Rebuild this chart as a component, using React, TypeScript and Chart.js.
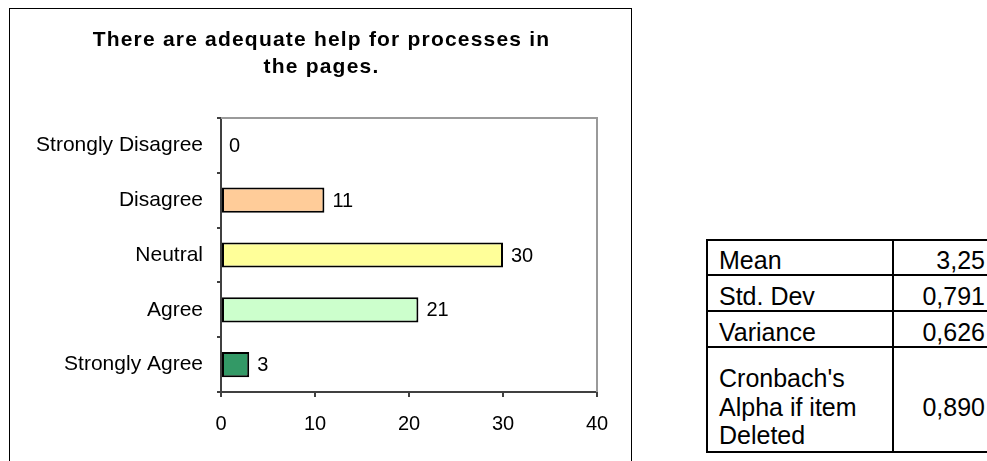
import React, { useEffect, useRef } from "react";
import { Chart, registerables } from "chart.js";

Chart.register(...registerables);

// Survey item: title, answer categories and response counts
const titleLines = ["There are adequate help for processes in", "the pages."];
const categories = ["Strongly Disagree", "Disagree", "Neutral", "Agree", "Strongly Agree"];
const responses = [0, 11, 30, 21, 3];
const barColors = ["#9999FF", "#FFCC99", "#FFFF99", "#CCFFCC", "#339966"];
const xTickValues = [0, 10, 20, 30, 40];

// Summary statistics shown beside the chart
const statNames = [["Mean"], ["Std. Dev"], ["Variance"], ["Cronbach's", "Alpha if item", "Deleted"]];
const statValues = ["3,25", "0,791", "0,626", "0,890"];

const FONT = '"Liberation Sans", Arial, Helvetica, sans-serif';

const titlePlugin = {
  id: "surveyTitle",
  afterDraw(chart: any) {
    const ctx = chart.ctx as CanvasRenderingContext2D;
    ctx.save();
    ctx.font = `bold 21px ${FONT}`;
    ctx.fillStyle = "#000";
    ctx.textAlign = "center";
    ctx.textBaseline = "alphabetic";
    (ctx as any).letterSpacing = "1.2px";
    const cx = chart.width / 2 + 1;
    titleLines.forEach((line, i) => ctx.fillText(line, cx, 37 + i * 27));
    ctx.restore();
  },
};

const plotFramePlugin = {
  id: "plotFrame",
  beforeDatasetsDraw(chart: any) {
    const { ctx, chartArea: a } = chart;
    ctx.save();
    ctx.strokeStyle = "#9a9a9a";
    ctx.lineWidth = 2;
    ctx.beginPath();
    ctx.moveTo(a.left, a.top);
    ctx.lineTo(a.right, a.top);
    ctx.lineTo(a.right, a.bottom);
    ctx.stroke();
    ctx.restore();
  },
};

const valueLabelPlugin = {
  id: "valueLabels",
  afterDatasetsDraw(chart: any) {
    const ctx = chart.ctx as CanvasRenderingContext2D;
    const meta = chart.getDatasetMeta(0);
    const values = chart.data.datasets[0].data as number[];
    ctx.save();
    ctx.font = `20px ${FONT}`;
    ctx.fillStyle = "#000";
    ctx.textAlign = "left";
    ctx.textBaseline = "middle";
    meta.data.forEach((bar: any, i: number) => {
      ctx.fillText(String(values[i]), bar.x + 8, bar.y + 1);
    });
    ctx.restore();
  },
};

function SurveyChart() {
  const canvasRef = useRef<HTMLCanvasElement | null>(null);

  useEffect(() => {
    const canvas = canvasRef.current;
    if (!canvas) return;
    const chart = new Chart(canvas, {
      type: "bar",
      data: {
        labels: categories,
        datasets: [
          {
            data: responses,
            backgroundColor: barColors,
            borderColor: "#000",
            borderWidth: 2,
            borderSkipped: false,
            barPercentage: 0.46,
            categoryPercentage: 1,
          },
        ],
      },
      options: {
        indexAxis: "y",
        responsive: false,
        animation: false,
        devicePixelRatio: 1,
        layout: { padding: { top: 109, right: 34, left: 0, bottom: 0 } },
        plugins: {
          legend: { display: false },
          title: { display: false },
          tooltip: { enabled: false },
        },
        scales: {
          x: {
            type: "linear",
            min: 0,
            max: 40,
            afterBuildTicks: (scale: any) => {
              scale.ticks = xTickValues.map((v) => ({ value: v }));
            },
            afterFit: (scale: any) => {
              scale.height = 69;
            },
            ticks: {
              color: "#000",
              font: { family: FONT, size: 20 },
              padding: 15,
              maxRotation: 0,
            },
            grid: {
              drawOnChartArea: false,
              drawTicks: true,
              tickLength: 5,
              color: "#404040",
              lineWidth: 2,
            },
            border: { color: "#404040", width: 2 },
          },
          y: {
            type: "category",
            offset: true,
            afterFit: (scale: any) => {
              scale.width = 211;
            },
            ticks: {
              color: "#000",
              font: { family: FONT, size: 21 },
              padding: 14,
            },
            grid: {
              offset: true,
              drawOnChartArea: false,
              drawTicks: true,
              tickLength: 4,
              color: "#404040",
              lineWidth: 2,
            },
            border: { color: "#404040", width: 2 },
          },
        },
      },
      plugins: [plotFramePlugin, valueLabelPlugin, titlePlugin],
    } as any);
    return () => chart.destroy();
  }, []);

  return <canvas ref={canvasRef} width={621} height={452} style={{ display: "block" }} />;
}

function StatsTable() {
  const rowHeights = [35, 36, 36, 105];
  const cellBase: React.CSSProperties = {
    boxSizing: "border-box",
    borderRight: "2px solid #000",
    borderBottom: "2px solid #000",
    display: "flex",
    alignItems: "flex-end",
    fontSize: 25,
    color: "#000",
    whiteSpace: "nowrap",
  };
  return (
    <div
      style={{
        position: "absolute",
        left: 706,
        top: 239,
        borderTop: "2px solid #000",
        borderLeft: "2px solid #000",
        display: "grid",
        gridTemplateColumns: "186px 96px",
        gridTemplateRows: rowHeights.map((h) => `${h}px`).join(" "),
        fontFamily: FONT,
      }}
    >
      {statNames.map((lines, i) => {
        const multi = lines.length > 1;
        return (
          <React.Fragment key={i}>
            <div
              style={{
                ...cellBase,
                paddingLeft: 11,
                paddingBottom: multi ? 1.5 : 0,
                lineHeight: multi ? "28.5px" : "28px",
              }}
            >
              <div>
                {lines.map((l, j) => (
                  <div key={j}>{l}</div>
                ))}
              </div>
            </div>
            <div
              style={{
                ...cellBase,
                justifyContent: "flex-end",
                paddingRight: 3,
                paddingBottom: multi ? 29.5 : 0,
                lineHeight: multi ? "28.5px" : "28px",
              }}
            >
              {statValues[i]}
            </div>
          </React.Fragment>
        );
      })}
    </div>
  );
}

export default function App() {
  return (
    <div
      style={{
        position: "fixed",
        left: 0,
        top: 0,
        width: 987,
        height: 461,
        overflow: "hidden",
        background: "#fff",
      }}
    >
      <div
        style={{
          position: "absolute",
          left: 9,
          top: 8,
          width: 621,
          height: 480,
          border: "1px solid #000",
          background: "#fff",
        }}
      >
        <SurveyChart />
      </div>
      <StatsTable />
    </div>
  );
}
